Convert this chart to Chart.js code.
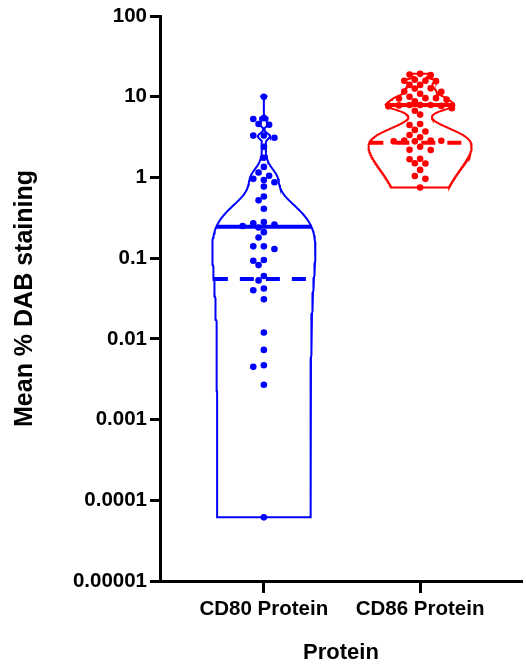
<!DOCTYPE html>
<html><head><meta charset="utf-8">
<script src="https://cdn.jsdelivr.net/npm/chart.js@4/dist/chart.umd.min.js"></script>
<style>html,body{margin:0;padding:0;background:#fff}canvas{display:block}</style>
</head><body><canvas id="c" width="526" height="664"></canvas>
<script>
// ---- data ----
const categories = ['CD80 Protein', 'CD86 Protein'];
const cd80Values = [10.0, 5.4, 5.3, 4.6, 4.5, 3.3, 3.1, 3.3, 2.4, 1.75, 1.35, 1.15, 1.05,
  0.87, 0.93, 0.96, 0.77, 0.58, 0.52, 0.41, 0.27, 0.28, 0.24, 0.26, 0.21, 0.25, 0.18,
  0.14, 0.14, 0.13, 0.095, 0.082, 0.093, 0.060, 0.053, 0.040, 0.042, 0.031, 0.012,
  0.0073, 0.0045, 0.0047, 0.0027, 0.0000615];
const cd86Values = [19.2, 18.8, 18.5, 16.2, 15.8, 15.8, 15.6, 14.0, 14.0, 12.7, 12.6, 11.6, 11.5, 10.9,
  10.0, 9.6, 9.2, 8.75, 9.6, 9.5, 7.9, 7.9, 7.6, 7.9, 7.8, 7.7, 7.2, 6.7, 6.0,
  4.6, 4.47, 3.88, 3.7, 3.36, 3.15, 2.87, 2.8, 2.87, 2.85, 2.8, 2.4, 2.19, 2.2,
  1.68, 1.7, 1.5, 1.49, 1.24, 1.04, 0.96, 0.75];
const medians = [0.244, 7.9];        // solid lines
const lowerQuartiles = [0.055, 2.68]; // dashed lines
const yTickValues = [0.00001, 0.0001, 0.001, 0.01, 0.1, 1, 10, 100];
const yTickLabels = ['0.00001', '0.0001', '0.001', '0.01', '0.1', '1', '10', '100'];
const bandwidths = [0.25, 0.85]; // kernel smoothing (linear space)

// ---- layout / style constants ----
const PLOT_TOP = 16, PLOT_BOTTOM = 581, PLOT_LEFT = 160, PLOT_RIGHT = 526;
const X_MIN = 0.3354, X_MAX = 2.6519;
const colors = ['#0000ff', '#ff0000'];
const HALF_MAX = 0.33;
const FONT = "'Liberation Sans', Arial, sans-serif";

const pxPerX = (PLOT_RIGHT - PLOT_LEFT) / (X_MAX - X_MIN);
const pxPerDecade = (PLOT_BOTTOM - PLOT_TOP) / 7;

function kdeAt(vals, h, v) {
  let s = 0;
  for (const x of vals) { const u = (v - x) / h; s += Math.exp(-0.5 * u * u); }
  return s;
}
function violin(vals, h, center) {
  const lo = Math.min(...vals), hi = Math.max(...vals);
  const N = 200, ys = [];
  for (let i = 0; i <= N; i++) ys.push(Math.pow(10, Math.log10(lo) + (Math.log10(hi) - Math.log10(lo)) * i / N));
  const d = ys.map(v => kdeAt(vals, h, v));
  const m = Math.max(...d);
  const left = ys.map((v, i) => ({x: center - HALF_MAX * d[i] / m, y: v}));
  const right = ys.map((v, i) => ({x: center + HALF_MAX * d[i] / m, y: v})).reverse();
  return {outline: [...left, ...right, left[0]], width: v => HALF_MAX * kdeAt(vals, h, v) / m};
}
function swarm(vals, center) {
  const D = 6.4, S = 5.35;
  const pts = vals.map(v => ({v, py: -Math.log10(v) * pxPerDecade})).sort((a, b) => a.py - b.py);
  const placed = [];
  for (const p of pts) {
    let k = 0;
    for (let n = 0; n < 40; n++) {
      const cand = n === 0 ? 0 : (n % 2 ? -Math.ceil(n / 2) : Math.ceil(n / 2));
      if (placed.every(q => { const dx = (cand - q.k) * S, dy = p.py - q.py; return dx * dx + dy * dy >= D * D; })) { k = cand; break; }
    }
    placed.push({k, py: p.py, v: p.v});
  }
  return placed.map(q => ({x: center + q.k * S / pxPerX, y: q.v}));
}

const groups = [cd80Values, cd86Values];
const datasets = [];
groups.forEach((vals, gi) => {
  const center = gi + 1;
  const vio = violin(vals, bandwidths[gi], center);
  datasets.push({type: 'scatter', data: swarm(vals, center), backgroundColor: colors[gi],
    borderWidth: 0, pointRadius: 3.3, order: 0});
  const wm = vio.width(medians[gi]);
  datasets.push({type: 'scatter', showLine: true, data: [{x: center - wm, y: medians[gi]}, {x: center + wm, y: medians[gi]}],
    borderColor: colors[gi], borderWidth: 4, pointRadius: 0, borderCapStyle: 'butt', order: 1});
  const wq = vio.width(lowerQuartiles[gi]);
  datasets.push({type: 'scatter', showLine: true, data: [{x: center - wq, y: lowerQuartiles[gi]}, {x: center + wq, y: lowerQuartiles[gi]}],
    borderColor: colors[gi], borderWidth: 4, pointRadius: 0, borderDash: [14, 12], borderCapStyle: 'butt', order: 1});
  datasets.push({type: 'scatter', showLine: true, data: vio.outline, borderColor: colors[gi],
    borderWidth: 2, pointRadius: 0, tension: 0, fill: false, order: 2});
});

new Chart(document.getElementById('c'), {
  type: 'scatter',
  data: {datasets},
  options: {
    responsive: false, animation: false, devicePixelRatio: 1,
    layout: {padding: {top: PLOT_TOP, right: 0, bottom: 0, left: 0}},
    plugins: {legend: {display: false}, tooltip: {enabled: false}},
    scales: {
      x: {
        type: 'linear', min: X_MIN, max: X_MAX,
        afterFit: s => { s.height = 664 - PLOT_BOTTOM; },
        afterBuildTicks: s => { s.ticks = categories.map((c, i) => ({value: i + 1})); },
        ticks: {callback: (v, i) => categories[i], color: '#000', padding: 4, maxRotation: 0,
          font: {family: FONT, size: 20.5, weight: 'bold'}},
        grid: {drawOnChartArea: false, drawTicks: true, tickLength: 12, tickWidth: 3, tickColor: '#000'},
        border: {display: true, width: 3, color: '#000'},
        title: {display: true, text: 'Protein', color: '#000', padding: {top: 0, bottom: 0},
          font: {family: FONT, size: 22, weight: 'bold', lineHeight: 1.0}}
      },
      y: {
        type: 'logarithmic', min: 0.00001, max: 100,
        afterFit: s => { s.width = PLOT_LEFT; },
        afterBuildTicks: s => { s.ticks = yTickValues.map(v => ({value: v})); },
        ticks: {callback: (v, i) => yTickLabels[i], color: '#000', padding: 3,
          font: {family: FONT, size: 20.5, weight: 'bold'}},
        grid: {drawOnChartArea: false, drawTicks: true, tickLength: 10, tickWidth: 3, tickColor: '#000'},
        border: {display: true, width: 3, color: '#000'},
        title: {display: true, text: 'Mean % DAB staining', color: '#000', padding: {top: 10, bottom: 0},
          font: {family: FONT, size: 25, weight: 'bold'}}
      }
    }
  }
});
</script></body></html>
